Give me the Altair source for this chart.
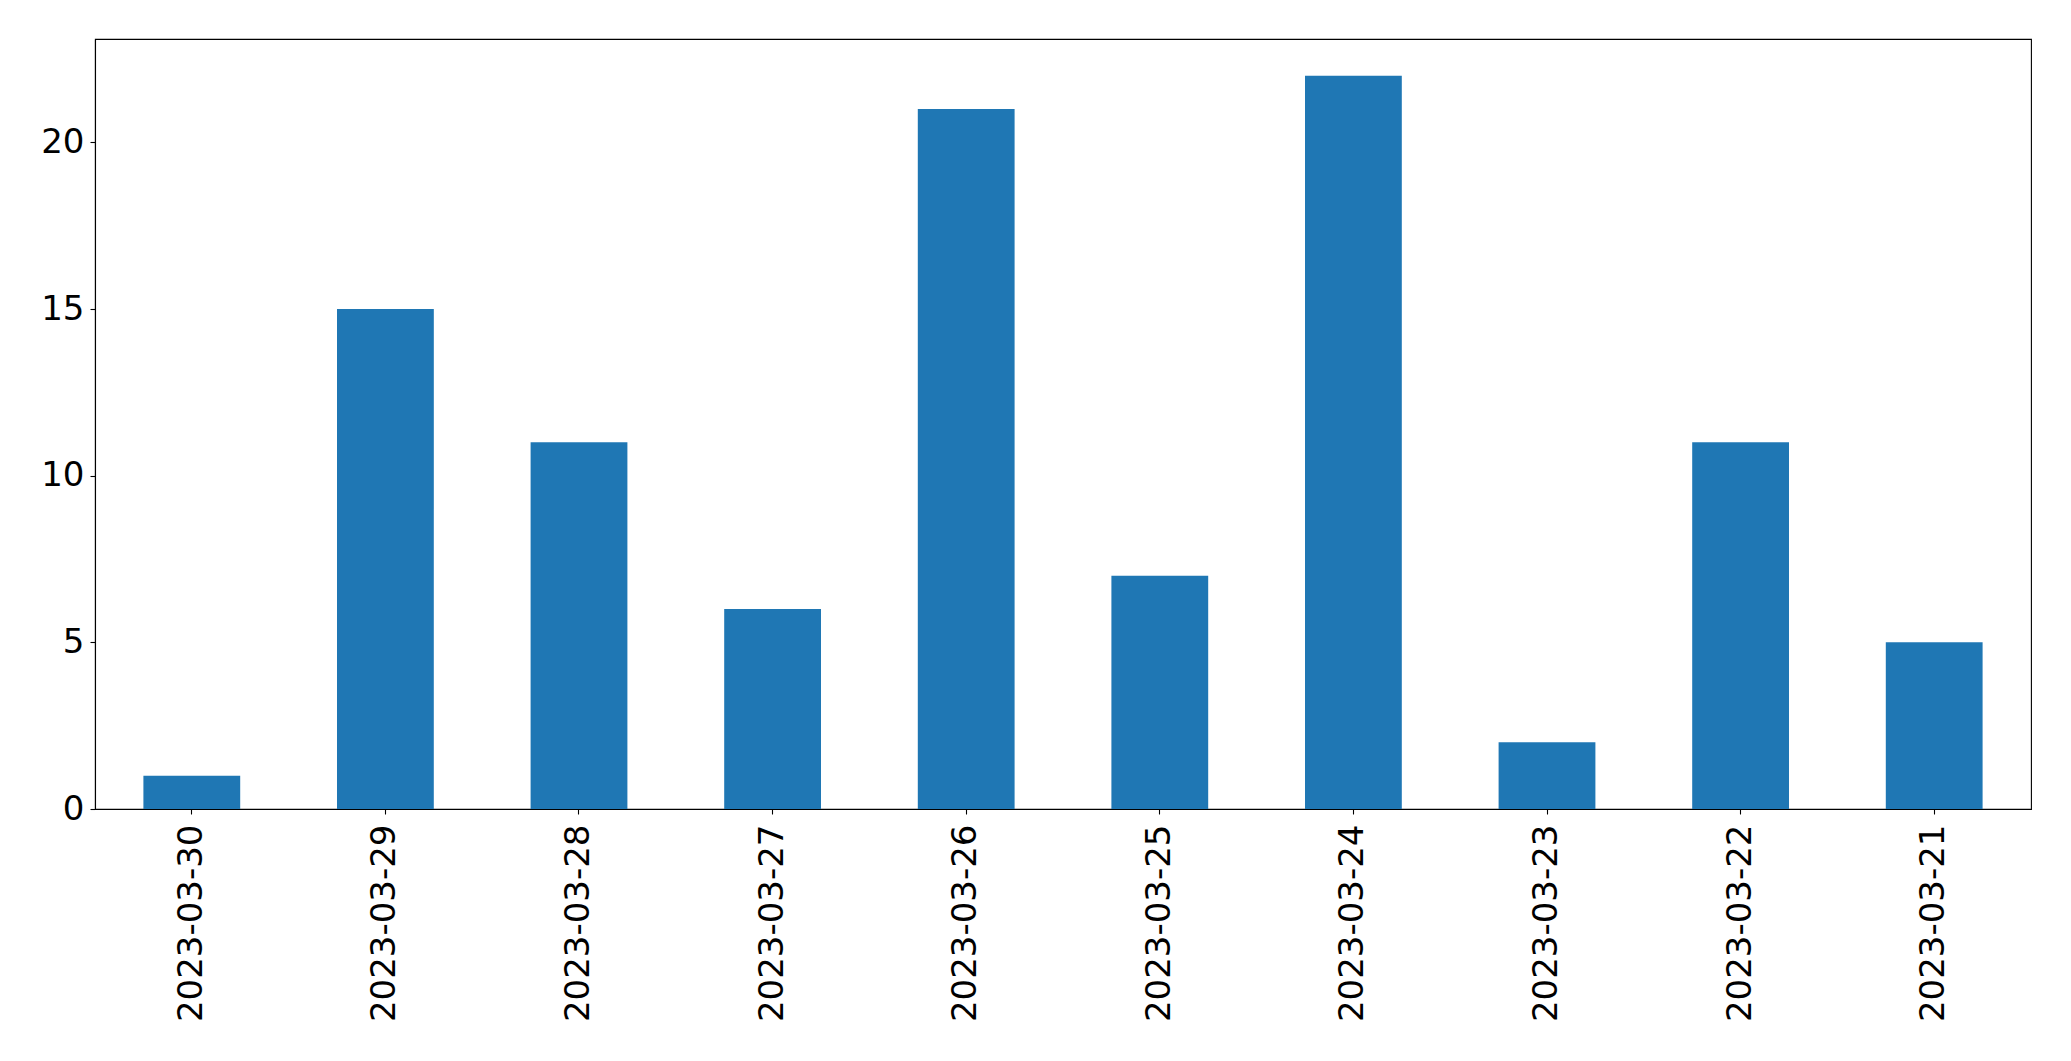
import altair as alt
import pandas as pd

dates = ["2023-03-30", "2023-03-29", "2023-03-28", "2023-03-27", "2023-03-26",
         "2023-03-25", "2023-03-24", "2023-03-23", "2023-03-22", "2023-03-21"]
counts = [1, 15, 11, 6, 21, 7, 22, 2, 11, 5]
y_ticks = [0, 5, 10, 15, 20]

df = pd.DataFrame({"date": dates, "count": counts})

chart = alt.Chart(df).mark_bar(color="#1f77b4").encode(
    x=alt.X("date:N", sort=dates, title=None,
            scale=alt.Scale(paddingInner=0.5, paddingOuter=0.25),
            axis=alt.Axis(labelAngle=270, labelAlign="right", labelBaseline="middle",
                          labelFontSize=34, labelFont="DejaVu Sans", labelColor="black",
                          labelLimit=0, labelPadding=10, tickSize=5, tickColor="black",
                          tickWidth=1.1, domainColor="black", domainWidth=1.1, grid=False)),
    y=alt.Y("count:Q", title=None,
            scale=alt.Scale(domain=[0, 23.1], nice=False, zero=True),
            axis=alt.Axis(values=y_ticks, labelFontSize=34, labelFont="DejaVu Sans",
                          labelColor="black", labelPadding=6, tickSize=5,
                          tickColor="black", tickWidth=1.1, domainColor="black",
                          domainWidth=1.1, grid=False)),
).properties(
    width=1936, height=770,
    autosize=alt.AutoSizeParams(type="none"),
    padding={"left": 87, "top": 31, "right": 20, "bottom": 240},
).configure_view(stroke="black", strokeWidth=1.1)

chart.save("out.html", embed_options={"renderer": "svg", "actions": False})
